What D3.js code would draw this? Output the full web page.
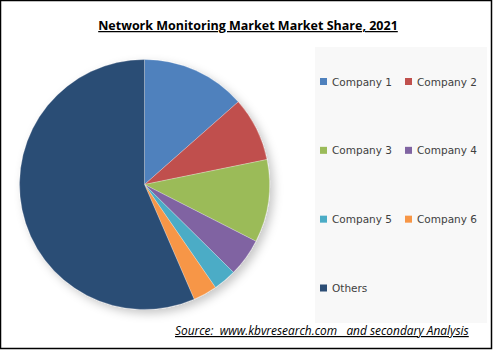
<!DOCTYPE html>
<html>
<head>
<meta charset="utf-8">
<script src="https://cdn.jsdelivr.net/npm/d3@7/dist/d3.min.js"></script>
<style>
  body { margin: 0; background: #fff; }
  svg { display: block; }
</style>
</head>
<body>
<svg id="chart" width="494" height="351"></svg>
<script>
(function(){
  const companies = ['Company 1','Company 2','Company 3','Company 4','Company 5','Company 6','Others']
  const shares = [13.5, 8.3, 10.7, 4.9, 3.0, 3.1, 56.5]
  const colors = ['#4f81bd','#c0504d','#9bbb59','#8064a2','#4bacc6','#f79646','#2c4d75']

  var svg = d3.select('#chart'),
      width = +svg.attr('width'),
      height = +svg.attr('height')

  // shadow for the pie
  var defs = svg.append('defs')
  var f = defs.append('filter').attr('id', 'shadow')
    .attr('x', '-20%').attr('y', '-20%').attr('width', '140%').attr('height', '140%')
  f.append('feDropShadow')
    .attr('dx', 4).attr('dy', 4).attr('stdDeviation', 5)
    .attr('flood-color', '#000').attr('flood-opacity', 0.22)

  // outer frame
  svg.append('rect')
    .attr('x', 0.5).attr('y', 0.5)
    .attr('width', width - 3).attr('height', height - 3)
    .attr('fill', '#fff').attr('stroke', '#000').attr('stroke-width', 1.5)

  // legend panel
  svg.append('rect')
    .attr('x', 315).attr('y', 47)
    .attr('width', 172).attr('height', 276)
    .attr('fill', '#f8f8f8')

  var pie = d3.pie().sort(null).value(d => d)
  var arc = d3.arc().innerRadius(0).outerRadius(125)

  var g = svg.append('g')
    .attr('transform', 'translate(144.5,184.5)')
    .attr('filter', 'url(#shadow)')

  g.selectAll('path')
    .data(pie(shares))
    .enter().append('path')
    .attr('d', arc)
    .attr('fill', (d, i) => colors[i])
    .attr('stroke', '#ffffff')
    .attr('stroke-opacity', 0.5)
    .attr('stroke-width', 0.5)

  // legend
  var colX = d3.scaleOrdinal().domain([0, 1]).range([320, 405])
  var rowY = d3.scaleLinear().domain([0, 3]).range([81.5, 288])

  var items = svg.append('g').attr('class', 'legend')
    .selectAll('g')
    .data(companies)
    .enter().append('g')
    .attr('transform', (d, i) => 'translate(' + colX(i % 2) + ',' + rowY(Math.floor(i / 2)) + ')')

  items.append('rect')
    .attr('x', 0).attr('y', -3.5)
    .attr('width', 7).attr('height', 7)
    .attr('fill', (d, i) => colors[i])

  items.append('text')
    .text(d => d)
    .attr('x', 12).attr('y', 4)
    .attr('font-family', 'DejaVu Sans, Verdana, sans-serif')
    .attr('font-size', '10.5px')
    .attr('fill', '#404040')

  svg.append('text')
    .attr('class', 'title')
    .text('Network Monitoring Market Market Share, 2021')
    .attr('x', 248).attr('y', 30)
    .attr('text-anchor', 'middle')
    .attr('font-family', 'Open Sans, Lato, sans-serif')
    .attr('font-weight', 'bold')
    .attr('font-size', '12.5px')
    .attr('text-decoration', 'underline')
    .attr('fill', '#000')

  svg.append('text')
    .attr('class', 'source')
    .text('Source:  www.kbvresearch.com   and secondary Analysis')
    .attr('x', 175).attr('y', 335)
    .attr('font-family', 'Open Sans, Lato, sans-serif')
    .attr('font-style', 'italic')
    .attr('font-size', '11.9px')
    .attr('text-decoration', 'underline')
    .attr('fill', '#000')
    .style('white-space', 'pre')
})()
</script>
</body>
</html>
